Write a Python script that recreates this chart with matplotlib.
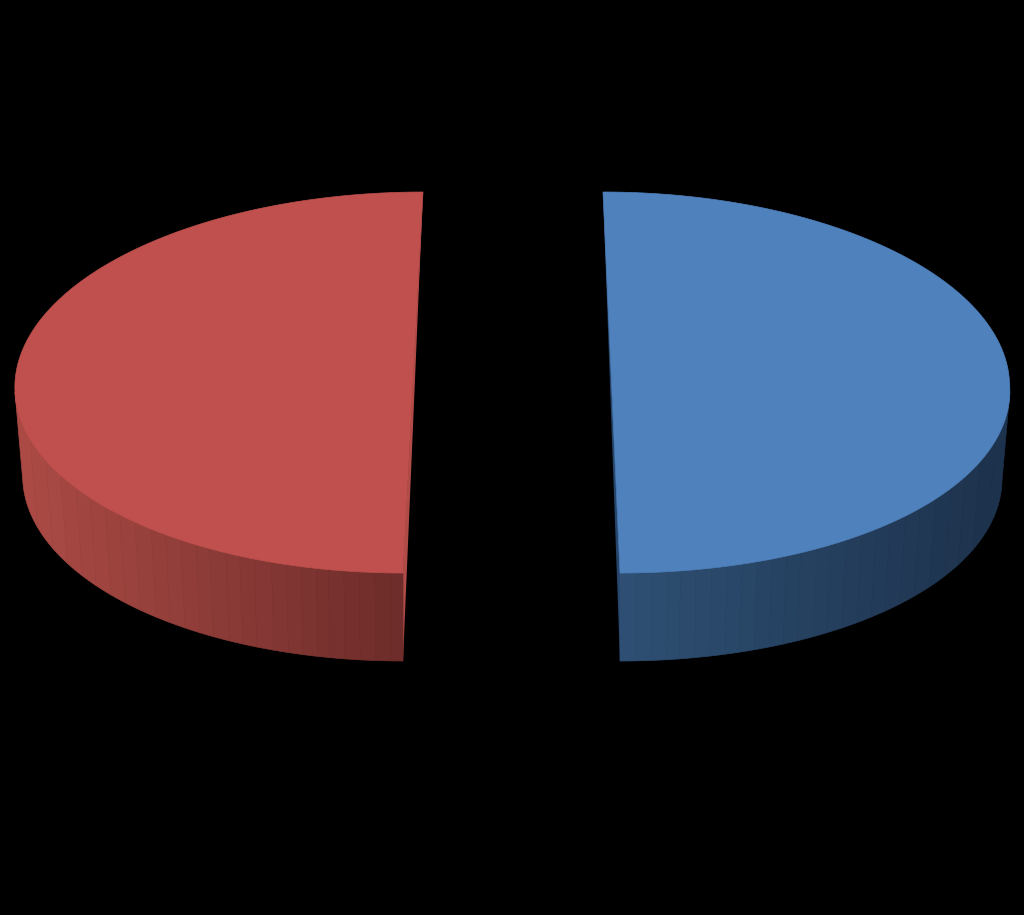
import numpy as np
import matplotlib
matplotlib.use('Agg')
import matplotlib.pyplot as plt

categories = ['A', 'B']
values = [50, 50]
top_colors = ['#4f81bd', '#c0504d']
cut_colors = ['#25456b', '#b04c47']
side_start = [(0.18, 0.31, 0.45), (0.67, 0.29, 0.27)]
side_end = [(0.11, 0.19, 0.29), (0.42, 0.17, 0.16)]

def slice_points(t, cx, cy, rx, ry, lean, bump):
    x = rx * np.cos(t)
    y = ry * np.sin(t)
    # lower half bulges a little, perspective of the original
    x = x + bump * np.cos(t) * np.clip(np.sin(t), 0, 1)
    return cx + x + lean * y, cy + y

def main():
    fig = plt.figure(figsize=(10.24, 9.15), dpi=100, facecolor='k')
    ax = fig.add_axes([0, 0, 1, 1])
    ax.set_xlim(0, 1024)
    ax.set_ylim(915, 0)
    ax.axis('off')

    # screen y grows downward, t=-90 is the top of the pie
    shares = np.array(values) / np.sum(values) * 2 * np.pi
    starts = [-np.pi / 2, -np.pi / 2 + shares[0]]
    centers = [(611.5, 382.5), (413, 382.5)]
    leans = [17 / 381, -20 / 381]
    bumps = [8, 0]
    rx, ry = 398, 190.5
    depth = 88
    taper = 0.98
    bands = 26

    for i, name in enumerate(categories):
        t = np.linspace(starts[i], starts[i] + shares[i], 400)
        cx, cy = centers[i]
        x, y = slice_points(t, cx, cy, rx, ry, leans[i], bumps[i])
        x0, y0 = cx, cy

        # outer wall, only the front part (sin t > 0), bottom rim is narrower
        front = np.where(np.sin(t) >= 0.05)[0]
        xf, yf = x[front], y[front]
        order = np.argsort(xf)
        xf, yf = xf[order], yf[order]
        xn = (xf - xf.min()) / (xf.max() - xf.min())
        m = -1 if i == 0 else 0
        xb, yb = x[m], y[m]
        xl = xb + (xf - xb) * taper
        group = np.minimum(np.floor(xn * bands).astype(int), bands - 1)
        for b in np.unique(group):
            idx = np.where(group == b)[0]
            idx = np.r_[idx, min(idx[-1] + 1, len(xf) - 1)]
            w = b / bands
            c = np.array(side_start[i]) * (1 - w) + np.array(side_end[i]) * w
            ax.fill(np.r_[xf[idx], xl[idx][::-1]],
                    np.r_[yf[idx], yf[idx][::-1] + depth],
                    color=c, lw=0.5, zorder=2)

        # thin cut face on the side toward the gap
        k = 0 if i == 0 else -1
        xt, yt = x[k], y[k]
        ax.fill([xt, xb, xb], [yt, yb, yb + depth],
                color=cut_colors[i], lw=0, zorder=1)

        ax.fill(np.r_[x, x0], np.r_[y, y0], color=top_colors[i], lw=0.5, zorder=3)

    fig.savefig('out.png', dpi=100, facecolor='k')

if __name__ == "__main__":
    main()
